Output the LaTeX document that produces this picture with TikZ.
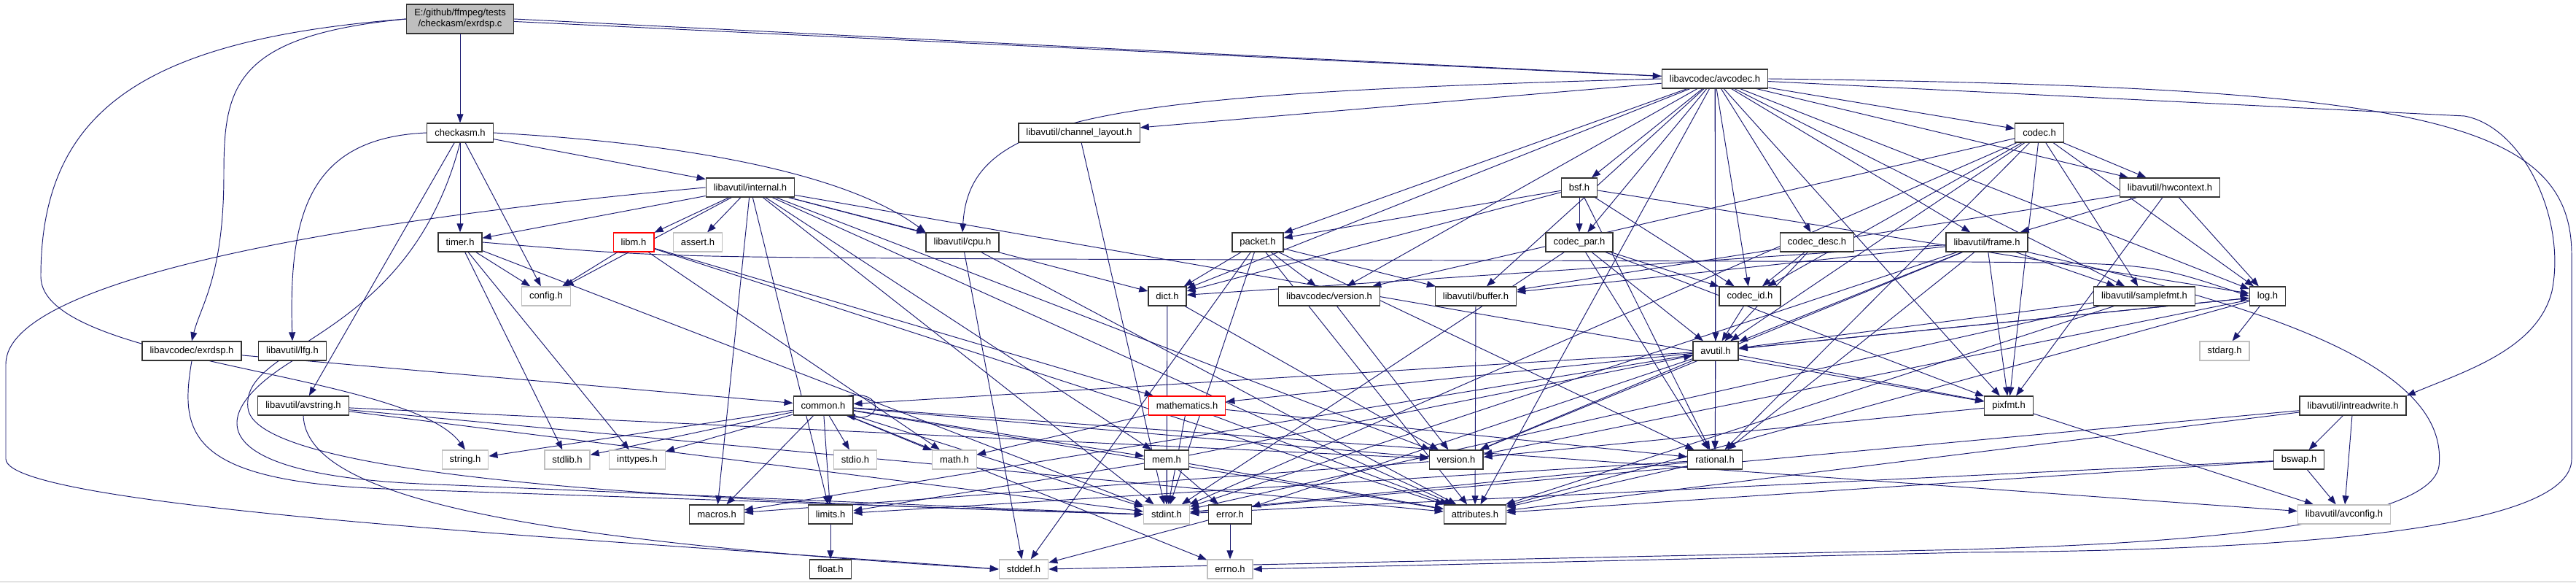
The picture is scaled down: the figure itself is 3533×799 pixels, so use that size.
\documentclass[tikz,border=0pt]{standalone}
\usepackage{fontspec}
\setmainfont{Liberation Sans}
\usepackage{xcolor}
\usetikzlibrary{arrows.meta,backgrounds}
\definecolor{edgeblue}{HTML}{191970}
\definecolor{sysgray}{HTML}{BFBFBF}
\definecolor{rootfill}{HTML}{BFBFBF}
\definecolor{truncred}{HTML}{FF0000}
\tikzset{hdr/.style={draw=black!80, fill=white, line width=1.3pt, minimum height=26pt, inner xsep=10.5pt, inner ysep=0pt, font=\fontsize{13}{15}\selectfont}, sys/.style={hdr, draw=sysgray}, trunc/.style={hdr, draw=truncred}, src/.style={hdr, fill=rootfill, minimum height=40pt, align=center}, dep/.style={-{Triangle[length=12pt,width=9pt]}, line width=0.95pt, color=edgeblue}}

\begin{document}
\begin{tikzpicture}[x=1pt,y=1pt]
\useasboundingbox (0,0) rectangle (3533,799);
\draw[sysgray, line width=1.5pt] (0,1.5) -- (3533,1.5);
\node[src] (exrdsp) at (631,773) {E:/github/ffmpeg/tests\\/checkasm/exrdsp.c};
\node[hdr] (avcodec) at (2352,691) {libavcodec/avcodec.h};
\node[hdr] (checkasm) at (631,617) {checkasm.h}; \node[hdr] (chlayout) at (1480,617) {libavutil/channel\_layout.h}; \node[hdr] (codec) at (2797,617) {codec.h};
\node[hdr] (internal) at (1029,542) {libavutil/internal.h}; \node[hdr] (bsf) at (2166,542) {bsf.h}; \node[hdr] (hwcontext) at (2976,542) {libavutil/hwcontext.h};
\node[hdr] (timer) at (631,467) {timer.h}; \node[trunc] (libm) at (869,467) {libm.h}; \node[sys] (assert) at (957,467) {assert.h}; \node[hdr] (cpu) at (1320,467) {libavutil/cpu.h};
\node[hdr] (packet) at (1725,467) {packet.h}; \node[hdr] (codecpar) at (2166,467) {codec\_par.h}; \node[hdr] (codecdesc) at (2492,467) {codec\_desc.h}; \node[hdr] (frame) at (2725,467) {libavutil/frame.h};
\node[sys] (config) at (749,393) {config.h}; \node[hdr] (dict) at (1601,393) {dict.h}; \node[hdr] (avcversion) at (1823,393) {libavcodec/version.h}; \node[hdr] (buffer) at (2024,393) {libavutil/buffer.h};
\node[hdr] (codecid) at (2400,393) {codec\_id.h}; \node[hdr] (samplefmt) at (2941,393) {libavutil/samplefmt.h}; \node[hdr] (log) at (3110,393) {log.h};
\node[hdr] (exrdsph) at (263,318) {libavcodec/exrdsp.h}; \node[hdr] (lfg) at (401,318) {libavutil/lfg.h}; \node[hdr] (avutil) at (2353,318) {avutil.h}; \node[sys] (stdarg) at (3051,318) {stdarg.h};
\node[hdr] (avstring) at (416,243) {libavutil/avstring.h}; \node[hdr] (common) at (1129,243) {common.h}; \node[trunc] (mathematics) at (1628,243) {mathematics.h};
\node[hdr] (pixfmt) at (2755,243) {pixfmt.h}; \node[hdr] (intreadwrite) at (3227,243) {libavutil/intreadwrite.h};
\node[sys] (string) at (638,169) {string.h}; \node[sys] (stdlib) at (778,169) {stdlib.h}; \node[sys] (inttypes) at (874,169) {inttypes.h}; \node[sys] (stdio) at (1173,169) {stdio.h};
\node[sys] (math) at (1309,169) {math.h}; \node[hdr] (mem) at (1600,169) {mem.h}; \node[hdr] (version) at (1997,169) {version.h}; \node[hdr] (rational) at (2352,169) {rational.h}; \node[hdr] (bswap) at (3153,169) {bswap.h};
\node[hdr] (macros) at (983,94) {macros.h}; \node[hdr] (limits) at (1139,94) {limits.h}; \node[sys] (stdint) at (1600,94) {stdint.h}; \node[hdr] (error) at (1687,94) {error.h};
\node[hdr] (attributes) at (2023,94) {attributes.h}; \node[sys] (avconfig) at (3215,94) {libavutil/avconfig.h};
\node[hdr] (float) at (1139,19) {float.h}; \node[sys] (stddef) at (1404,19) {stddef.h}; \node[sys] (errno) at (1687,19) {errno.h};

\begin{scope}[on background layer]
\path[dep] (exrdsp) edge (checkasm) edge (avcodec);
\draw[dep] (exrdsp.west) .. controls (200,745) and (56,650) .. (56,420) .. controls (56,300) and (560,290) .. (string.north);
\draw[dep] (exrdsp.west) .. controls (320,750) and (307,680) .. (307,560) .. controls (307,420) and (275,380) .. (exrdsph.north);
\draw[dep] (exrdsp.east) -- (3380,640) .. controls (3460,625) and (3520,500) .. (3500,400) .. controls (3480,320) and (3380,290) .. (intreadwrite.north east);
\path[dep] (checkasm) edge (timer) edge (config) edge (internal) edge (avstring);
\draw[dep] (checkasm.east) .. controls (900,605) and (1150,570) .. (cpu.north west);
\draw[dep] (checkasm.west) .. controls (420,610) and (396,500) .. (lfg.north);
\draw[dep] (checkasm.south) .. controls (560,330) and (330,330) .. (340,240) .. controls (350,140) and (1000,110) .. (stdint.west);
\path[dep] (avcodec) edge (samplefmt) edge (attributes) edge (avutil) edge (buffer) edge (chlayout) edge (dict) edge (frame) edge (hwcontext) edge (log) edge (pixfmt) edge (rational) edge (bsf) edge (codec) edge (codecdesc) edge (codecpar) edge (codecid) edge (packet) edge (avcversion);
\draw[dep] (avcodec.west) .. controls (1500,670) and (1330,640) .. (cpu.north);
\draw[dep] (avcodec.east) .. controls (3300,680) and (3527,640) .. (3527,450) -- (3527,170) .. controls (3527,80) and (3200,45) .. (2700,42) -- (errno.east);
\path[dep] (exrdsph) edge (common);
\draw[dep] (exrdsph.south) .. controls (245,200) and (260,135) .. (560,128) -- (stdint.west);
\path[dep] (internal) edge (limits) edge (stdint) edge (assert) edge (config) edge (attributes) edge (timer) edge (cpu) edge (dict) edge (macros) edge (mem) edge (pixfmt) edge (version) edge (libm);
\draw[dep] (internal.west) .. controls (500,500) and (8,420) .. (8,300) -- (8,170) .. controls (8,100) and (900,55) .. (stddef.west);
\path[dep] (timer) edge (config) edge (stdlib) edge (inttypes) edge (stdint);
\draw[dep] (timer.east) .. controls (900,447) .. (1400,444) -- (2700,440) .. controls (2950,438) .. (log.west);
\path[dep] (libm) edge (config) edge (math) edge (attributes) edge (mathematics);
\path[dep] (cpu) edge (stddef) edge (attributes);
\path[dep] (chlayout) edge (stdint);
\path[dep] (codec) edge (stdint) edge (avutil) edge (hwcontext) edge (log) edge (pixfmt) edge (rational) edge (samplefmt) edge (codecid) edge (avcversion);
\path[dep] (bsf) edge (dict) edge (log) edge (rational) edge (codecid) edge (codecpar) edge (packet);
\path[dep] (hwcontext) edge (buffer) edge (frame) edge (log) edge (pixfmt);
\path[dep] (packet) edge (stddef) edge (stdint) edge (attributes) edge (buffer) edge (dict) edge (rational) edge (avcversion);
\path[dep] (codecpar) edge (stdint) edge (avutil) edge (rational) edge (pixfmt) edge (codecid);
\path[dep] (codecdesc) edge (avutil) edge (codecid);
\path[dep] (codecid) edge (avutil);
\path[dep] (frame) edge (stdint) edge (avutil) edge (buffer) edge (dict) edge (rational) edge (samplefmt) edge (pixfmt) edge (version);
\draw[dep] (frame.south east) .. controls (3100,380) and (3360,300) .. (3345,160) .. controls (3330,60) and (2800,50) .. (2700,46) -- (stddef.east);
\path[dep] (dict) edge (stdint) edge (version);
\path[dep] (avcversion) edge (version);
\path[dep] (buffer) edge (attributes);
\path[dep] (samplefmt) edge (stdint) edge (avutil) edge (attributes);
\path[dep] (log) edge (stdarg) edge (avutil) edge (attributes) edge (version);
\draw[dep] (lfg.south) .. controls (265,220) and (300,145) .. (600,135) -- (stdint.west);
\path[dep] (avutil) edge (common) edge (error) edge (rational) edge (version) edge (macros) edge (mathematics) edge (log) edge (pixfmt);
\path[dep] (avstring) edge (stdint) edge (attributes) edge (version);
\draw[dep] (avstring.south) .. controls (420,120) and (700,60) .. (stddef.west);
\path[dep] (common) edge (string) edge (stdlib) edge (inttypes) edge (stdio) edge (math) edge (mem) edge (macros) edge (limits) edge (stdint) edge (errno) edge (attributes) edge (version) edge (avconfig);
\draw[dep] ([xshift=-8pt]common.north east) .. controls +(50,8) and +(50,-8) .. ([xshift=-10pt]common.south east);
\path[dep] (mathematics) edge (stdint) edge (math) edge (attributes) edge (rational);
\path[dep] (pixfmt) edge (avconfig) edge (version);
\path[dep] (intreadwrite) edge (stdint) edge (avconfig) edge (attributes) edge (bswap);
\path[dep] (mem) edge (limits) edge (stdint) edge (attributes) edge (error) edge (avutil);
\path[dep] (version) edge (macros);
\path[dep] (rational) edge (stdint) edge (limits) edge (attributes);
\path[dep] (bswap) edge (stdint) edge (avconfig) edge (attributes);
\path[dep] (limits) edge (float);
\path[dep] (error) edge (errno) edge (stddef);
\end{scope}
\end{tikzpicture}
\end{document}
